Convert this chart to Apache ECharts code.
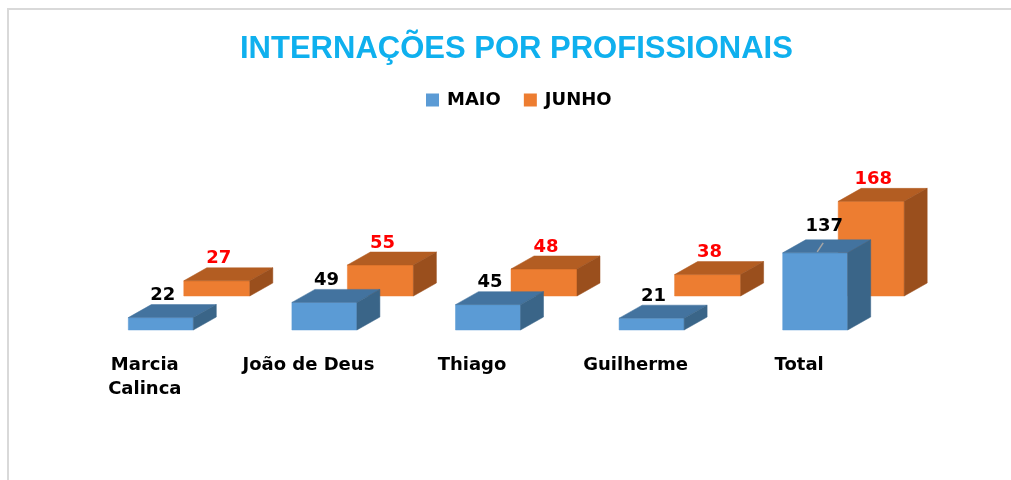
<!DOCTYPE html>
<html>
<head>
<meta charset="utf-8">
<script src="https://cdn.jsdelivr.net/npm/echarts@6/dist/echarts.min.js"></script>
<style>
html,body{margin:0;padding:0;background:#fff;}
#chart{width:1011px;height:480px;}
</style>
</head>
<body>
<div id="chart"></div>
<script>
const categories = ['Marcia\nCalinca', 'João de Deus', 'Thiago', 'Guilherme', 'Total'];
const maio = [22, 49, 45, 21, 137];
const junho = [27, 55, 48, 38, 168];
const seriesNames = ['MAIO', 'JUNHO'];

const chart = echarts.init(document.getElementById('chart'), null, {renderer: 'canvas'});

const DX = 23, DY = -13;
function bar3D(name, values, opts) {
  return {
    type: 'custom',
    name: name,
    z: opts.z,
    clip: false,
    itemStyle: {color: opts.front},
    data: values.map((v, i) => [i, v]),
    encode: {x: 0, y: 1},
    renderItem: function (params, api) {
      const i = api.value(0), v = api.value(1);
      const base = api.coord([i, 0]);
      const top = api.coord([i, v]);
      const cx = base[0] + opts.xShift;
      const w = opts.width;
      const x0 = cx - w / 2, x1 = cx + w / 2;
      const yb = base[1] + opts.yShift, yt = top[1] + opts.yShift;
      const moved = (opts.leaderIndex === i);
      const lx = cx + 2 + (moved ? 7 : 0);
      const ly = yt + DY - 9 - (moved ? 4 : 0);
      const children = [
        {type: 'polygon', shape: {points: [[x0, yb], [x1, yb], [x1, yt], [x0, yt]]},
         style: {fill: opts.front, stroke: opts.front, lineWidth: 0.5}},
        {type: 'polygon', shape: {points: [[x0, yt], [x1, yt], [x1 + DX, yt + DY], [x0 + DX, yt + DY]]},
         style: {fill: opts.top, stroke: opts.top, lineWidth: 0.5}},
        {type: 'polygon', shape: {points: [[x1, yb], [x1 + DX, yb + DY], [x1 + DX, yt + DY], [x1, yt]]},
         style: {fill: opts.side, stroke: opts.side, lineWidth: 0.5}},
        {type: 'text', style: {text: String(v), x: lx, y: ly,
          align: 'center', verticalAlign: 'middle', fill: opts.labelColor,
          font: 'bold 18px "DejaVu Sans"'}}
      ];
      if (moved) {
        children.push({type: 'line', shape: {x1: cx + 2, y1: yt - 1, x2: cx + 8, y2: yt - 10},
          style: {stroke: '#a6a6a6', lineWidth: 1.5}});
      }
      return {type: 'group', children: children};
    }
  };
}

chart.setOption({
  backgroundColor: '#ffffff',
  animation: false,
  title: {
    text: 'INTERNAÇÕES POR PROFISSIONAIS',
    left: 235,
    top: 29,
    textStyle: {color: '#0fb0ee', fontSize: 31, fontWeight: 'bold', fontFamily: '"Liberation Sans"'}
  },
  legend: {
    data: seriesNames,
    top: 86,
    left: 421,
    icon: 'rect',
    itemWidth: 13,
    itemHeight: 13,
    itemGap: 23,
    textStyle: {color: '#000', fontSize: 18, fontWeight: 'bold', fontFamily: '"DejaVu Sans"',
      padding: [0, 0, 0, 3]}
  },
  grid: {left: 63, right: 130, top: 161, bottom: 150},
  xAxis: {
    type: 'category',
    data: categories,
    axisLine: {show: false},
    axisTick: {show: false},
    axisLabel: {color: '#000', fontSize: 18, fontWeight: 'bold', fontFamily: '"DejaVu Sans"',
      margin: 23, lineHeight: 24, interval: 0}
  },
  yAxis: {type: 'value', min: 0, max: 300, show: false, splitLine: {show: false}},
  graphic: [{
    type: 'polyline',
    shape: {points: [[8, 480], [8, 9], [1011, 9]]},
    style: {stroke: '#d9d9d9', lineWidth: 2, fill: null},
    silent: true
  }],
  series: [
    bar3D('JUNHO', junho, {z: 2, xShift: 72, yShift: -34, width: 66,
      front: '#ED7D31', top: '#b35d22', side: '#9a4f1d', labelColor: '#ff0000'}),
    bar3D('MAIO', maio, {z: 3, xShift: 16, yShift: 0, width: 65, leaderIndex: 4,
      front: '#5B9BD5', top: '#43739f', side: '#3a6588', labelColor: '#000000'})
  ]
});
</script>
</body>
</html>
